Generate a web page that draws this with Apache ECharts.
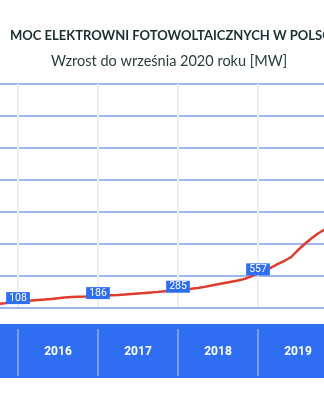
<!DOCTYPE html>
<html><head><meta charset="utf-8">
<script src="https://cdn.jsdelivr.net/npm/echarts@6/dist/echarts.min.js"></script>
<style>html,body{margin:0;padding:0;background:#fff}#c{width:324px;height:400px}</style>
</head><body><div id="c"></div>
<script>
// months counted from Dec 2015 (0) ; 12 = Dec 2016, etc.
const months = [-3,-2,-1,0,1,2,3,4,5,6,7,8,9,10,11,12,13,14,15,16,17,18,19,20,21,22,23,24,25,26,27,28,29,30,31,32,33,34,35,36,37,38,39,40,41,42,43,44,45,46,47];
const values = [64,74,90,108,112,118,125,132,140,152,163,172,175,178,182,186,192,199,205,212,220,228,236,244,252,262,273,285,292,300,312,330,350,370,390,410,430,455,495,557,594,633,688,738,797,906,1000,1086,1164,1227,1290];
const labelMonths = [0,12,24,36];
const years = ['2015','2016','2017','2018','2019','2020'];
const titleText = 'MOC ELEKTROWNI FOTOWOLTAICZNYCH W POLSCE';
const subtitleText = 'Wzrost do września 2020 roku [MW]';

const blue = '#2f6ef0';
const gridBlue = '#7f9fe8';
const data = months.map((m, i) => {
  const item = { value: [m, values[i]] };
  if (labelMonths.includes(m)) item.label = { show: true };
  return item;
});

const chart = echarts.init(document.getElementById('c'), null, { renderer: 'canvas' });
chart.setOption({
  animation: false,
  backgroundColor: '#fff',
  title: [
    { text: titleText, left: 5, top: 24, textStyle: { fontFamily: 'Lato', fontWeight: 'bold', fontSize: 13, color: '#1c2e2e' } },
    { text: subtitleText, left: 46, top: 49, textStyle: { fontFamily: 'Lato', fontWeight: 'normal', fontSize: 14.5, color: '#2a3c3c' } }
  ],
  graphic: [
    { type: 'rect', z: -10, shape: { x: 0, y: 324, width: 324, height: 54 }, style: { fill: blue } }
  ],
  grid: { left: -62, right: -94, top: 84, bottom: 92, containLabel: false, outerBoundsMode: 'none' },
  xAxis: [
    { type: 'value', min: -12, max: 60, interval: 12, offset: 5,
      axisLine: { show: true, lineStyle: { color: gridBlue, width: 1.5 } },
      axisTick: { show: false }, axisLabel: { show: false },
      splitLine: { show: true, lineStyle: { color: '#efeff2', width: 2 } } },
    { type: 'category', data: years, position: 'bottom', offset: 21, boundaryGap: true,
      axisLine: { show: false },
      axisTick: { show: true, length: 47, interval: 0, lineStyle: { color: '#8fb0f6', width: 1.5 } },
      axisLabel: { show: true, interval: 0, color: '#fff', fontFamily: 'Roboto', fontWeight: 'bold', fontSize: 12, margin: 17 },
      splitLine: { show: false } }
  ],
  yAxis: { type: 'value', min: 0, max: 3500, interval: 500,
    axisLine: { show: false }, axisTick: { show: false }, axisLabel: { show: false },
    splitLine: { show: true, showMinLine: false, lineStyle: { color: gridBlue, width: 1.5 } } },
  series: [{
    type: 'line', xAxisIndex: 0, yAxisIndex: 0, data: data,
    showSymbol: true, symbol: 'circle', symbolSize: 0, smooth: false,
    itemStyle: { color: '#e03a2c' },
    lineStyle: { color: '#e03a2c', width: 2.5 },
    label: { show: false, position: 'inside', offset: [0, -3], formatter: p => p.value[1],
      backgroundColor: blue, color: '#fff', fontFamily: 'Roboto', fontSize: 10.5, padding: [1, 3, 0, 3] },
    z: 3
  }]
});
</script></body></html>
